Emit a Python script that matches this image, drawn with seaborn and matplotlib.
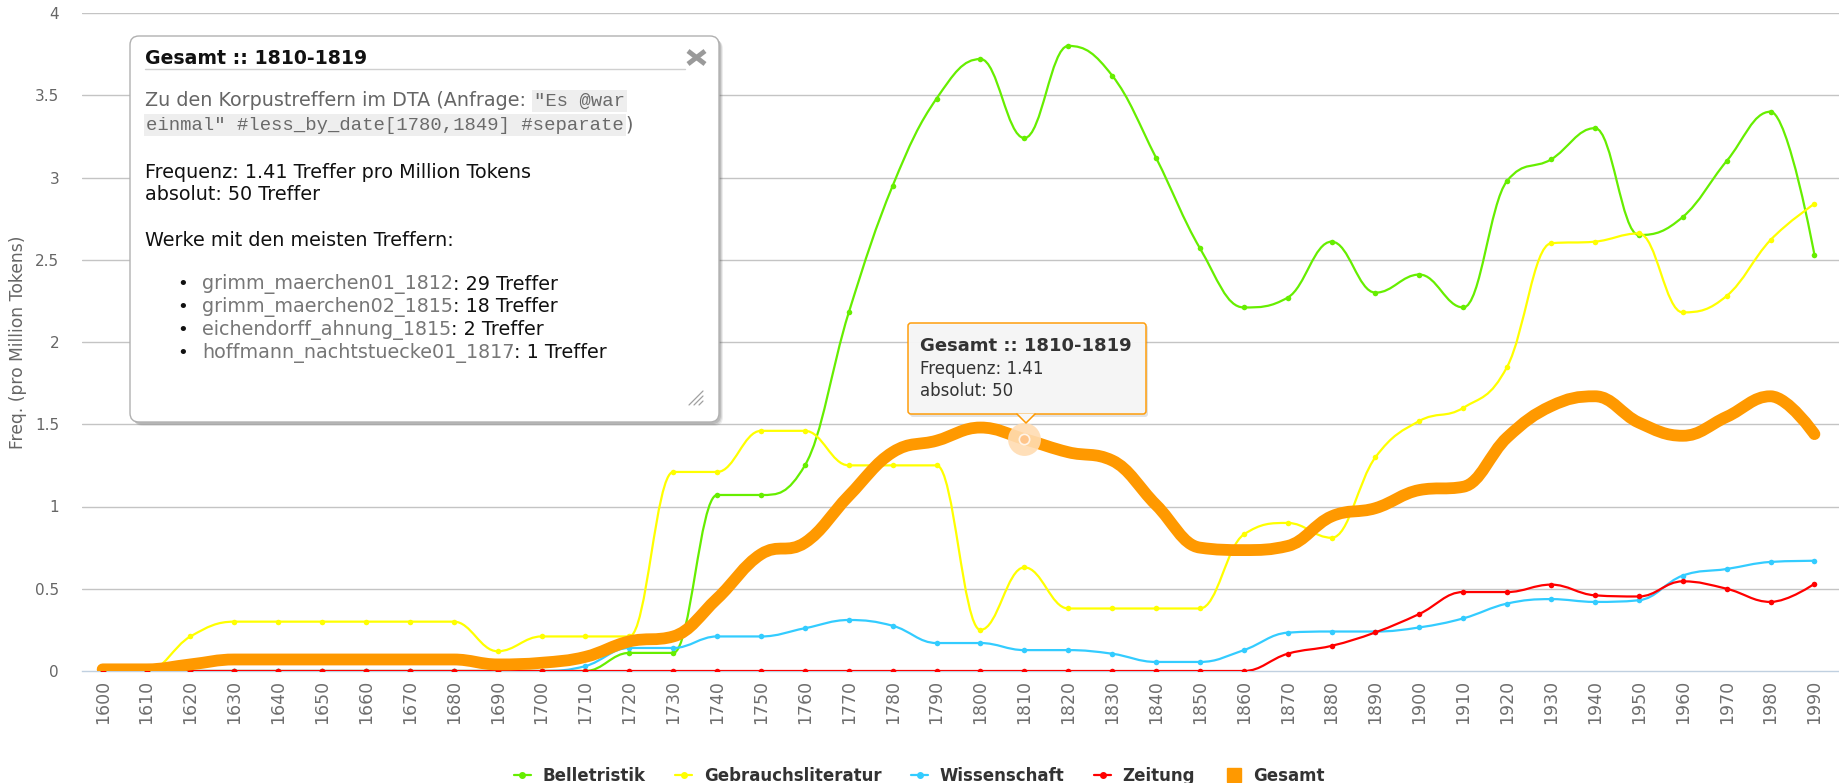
import matplotlib
matplotlib.use("Agg")
import matplotlib.pyplot as plt
import matplotlib.transforms as mtransforms
from matplotlib.path import Path
from matplotlib.patches import PathPatch, FancyBboxPatch, Polygon
from matplotlib.lines import Line2D
import seaborn as sns
import pandas as pd

# decades on the x axis
years = list(range(1600, 2000, 10))

# Freq. (pro Million Tokens), one value per decade
belletristik = [0, 0, 0, 0, 0, 0, 0, 0, 0, 0, 0, 0, 0.11, 0.11, 1.07, 1.07, 1.25, 2.18, 2.95, 3.48,
                3.72, 3.24, 3.80, 3.62, 3.12, 2.57, 2.21, 2.27, 2.61, 2.30, 2.41, 2.21, 2.98, 3.11,
                3.30, 2.65, 2.76, 3.10, 3.40, 2.53]
gebrauchsliteratur = [0, 0, 0.21, 0.30, 0.30, 0.30, 0.30, 0.30, 0.30, 0.12, 0.21, 0.21, 0.21, 1.21,
                      1.21, 1.46, 1.46, 1.25, 1.25, 1.25, 0.25, 0.63, 0.38, 0.38, 0.38, 0.38, 0.83,
                      0.90, 0.81, 1.30, 1.52, 1.60, 1.85, 2.60, 2.61, 2.66, 2.18, 2.28, 2.62, 2.84]
wissenschaft = [0, 0, 0, 0, 0, 0, 0, 0, 0, 0, 0, 0.03, 0.14, 0.14, 0.21, 0.21, 0.26, 0.31, 0.275,
                0.17, 0.17, 0.127, 0.127, 0.105, 0.055, 0.055, 0.127, 0.233, 0.24, 0.24, 0.265,
                0.32, 0.41, 0.437, 0.42, 0.43, 0.58, 0.62, 0.663, 0.67]
zeitung = [0, 0, 0, 0, 0, 0, 0, 0, 0, 0, 0, 0, 0, 0, 0, 0, 0, 0, 0, 0, 0, 0, 0, 0, 0, 0, 0,
           0.105, 0.153, 0.235, 0.347, 0.48, 0.48, 0.525, 0.46, 0.453, 0.545, 0.50, 0.42, 0.53]
gesamt = [0.01, 0.01, 0.04, 0.07, 0.07, 0.07, 0.07, 0.07, 0.07, 0.04, 0.05, 0.086, 0.18, 0.21,
          0.44, 0.71, 0.78, 1.065, 1.33, 1.40, 1.48, 1.41, 1.33, 1.28, 1.01, 0.75, 0.735, 0.76,
          0.94, 0.99, 1.10, 1.12, 1.42, 1.61, 1.67, 1.51, 1.43, 1.545, 1.67, 1.44]

series_names = ['Belletristik', 'Gebrauchsliteratur', 'Wissenschaft', 'Zeitung', 'Gesamt']
series_values = [belletristik, gebrauchsliteratur, wissenschaft, zeitung, gesamt]
colors = ['#66ee00', '#ffff00', '#33ccff', '#ff0000', '#ff9900']

ytick_values = [0, 0.5, 1, 1.5, 2, 2.5, 3, 3.5, 4]
ytick_labels = ['0', '0.5', '1', '1.5', '2', '2.5', '3', '3.5', '4']

hover_year, hover_value = 1810, 1.41

W, H = 1839, 783


def spline_path(xs, ys, smoothing=1.5):
    # highcharts style spline: cubic bezier with clamped control points
    n = len(xs)
    den = smoothing + 1
    left = [(x, y) for x, y in zip(xs, ys)]
    right = list(left)
    for i in range(1, n - 1):
        px, py = xs[i], ys[i]
        lx, ly = xs[i - 1], ys[i - 1]
        nx, ny = xs[i + 1], ys[i + 1]
        lcx = (smoothing * px + lx) / den
        lcy = (smoothing * py + ly) / den
        rcx = (smoothing * px + nx) / den
        rcy = (smoothing * py + ny) / den
        corr = ((rcy - lcy) * (rcx - px)) / (rcx - lcx) + py - rcy
        lcy += corr
        rcy += corr
        if lcy > ly and lcy > py:
            lcy = max(ly, py); rcy = 2 * py - lcy
        elif lcy < ly and lcy < py:
            lcy = min(ly, py); rcy = 2 * py - lcy
        if rcy > ny and rcy > py:
            rcy = max(ny, py); lcy = 2 * py - rcy
        elif rcy < ny and rcy < py:
            rcy = min(ny, py); lcy = 2 * py - rcy
        left[i] = (lcx, lcy)
        right[i] = (rcx, rcy)
    verts = [(xs[0], ys[0])]
    codes = [Path.MOVETO]
    for i in range(1, n):
        verts += [right[i - 1], left[i], (xs[i], ys[i])]
        codes += [Path.CURVE4] * 3
    return Path(verts, codes)


def draw_figure():
    sns.set_theme(style="white")
    plt.rcParams['font.family'] = ['DejaVu Sans']

    fig = plt.figure(figsize=(W / 100, H / 100), dpi=100)
    ax = fig.add_axes([82 / W, (H - 671) / H, (W - 82) / W, (671 - 13) / H])

    rows = []
    for name, vals in zip(series_names, series_values):
        for y, v in zip(years, vals):
            rows.append([name, y, v])
    df = pd.DataFrame(rows, columns=['series', 'year', 'freq'])

    for k, (name, color) in enumerate(zip(series_names, colors)):
        sub = df[df.series == name]
        lw = 8.5 if name == 'Gesamt' else 1.6
        patch = PathPatch(spline_path(list(sub.year), list(sub.freq)), fill=False,
                          edgecolor=color, lw=lw, capstyle='round', joinstyle='round',
                          zorder=3 + k)
        ax.add_patch(patch)

    thin = df[df.series != 'Gesamt']
    for k, name in enumerate(series_names[:4]):
        sns.scatterplot(data=thin[thin.series == name], x='year', y='freq', color=colors[k],
                        s=16, linewidth=0, legend=False, ax=ax, zorder=3 + k)

    # hover marker on Gesamt
    ax.scatter([hover_year], [hover_value], s=560, color='#ffdcb2', alpha=0.9, lw=0, zorder=9)
    ax.scatter([hover_year], [hover_value], s=55, facecolor='#ffc58a', edgecolor='#fff4e8',
               lw=1.2, zorder=10)

    ax.set_xlim(1595.3, 1995.6)
    ax.set_ylim(0, 4)
    ax.set_xticks(years)
    ax.set_xticklabels([str(y) for y in years])
    ax.set_yticks(ytick_values)
    ax.set_yticklabels(ytick_labels)
    ax.set_xlabel('')
    ax.set_ylabel('Freq. (pro Million Tokens)', color='#666666', fontsize=12.3)
    ax.yaxis.set_label_coords(-0.0315, 0.5)
    ax.tick_params(axis='x', length=0, pad=6.5, labelsize=12.5, labelcolor='#6e6e6e',
                   labelrotation=90)
    ax.tick_params(axis='y', length=0, pad=16.5, labelsize=11, labelcolor='#666666')
    ax.grid(False)
    for v in ytick_values[1:]:
        ax.axhline(v, color='#c4c4c4', lw=1.0, zorder=1)
    for s in ['top', 'right', 'left']:
        ax.spines[s].set_visible(False)
    ax.spines['bottom'].set_color('#c0d0e0')
    ax.spines['bottom'].set_linewidth(1.0)
    ax.set_facecolor('white')

    # legend
    handles = [Line2D([], [], color=c, lw=1.6, marker='o', ms=4) for c in colors[:4]]
    handles.append(Line2D([], [], color=colors[4], lw=0, marker='s', ms=10))
    fig.legend(handles, series_names, loc='center', bbox_to_anchor=(0.5, 0.009), ncol=5,
               frameon=False, prop=dict(weight='bold', size=12), handlelength=1.0,
               handletextpad=0.7, columnspacing=1.8, labelcolor='#333333')

    # overlays in reference pixel coordinates (origin top left)
    pix = mtransforms.Affine2D().scale(1 / 100, -1 / 100).translate(0, H / 100) + fig.dpi_scale_trans
    renderer = fig.canvas.get_renderer()

    # big popup box
    for off, a in [(4, 0.10), (3, 0.15), (2, 0.2)]:
        fig.add_artist(FancyBboxPatch((130 + off, 36 + off), 589, 386,
                                      boxstyle='round,pad=0,rounding_size=9', transform=pix,
                                      fc='#555555', ec='none', alpha=a, zorder=20))
    fig.add_artist(FancyBboxPatch((130, 36), 589, 386, boxstyle='round,pad=0,rounding_size=9',
                                  transform=pix, fc='white', ec='#b0b0b0', lw=1, zorder=21))
    fig.add_artist(Line2D([145, 685], [69, 69], transform=pix, color='#d0d0d0', lw=1, zorder=22))
    fig.add_artist(Line2D([688, 705], [51, 64], transform=pix, color='#9a9a9a', lw=3.5,
                          solid_capstyle='butt', zorder=22))
    fig.add_artist(Line2D([688, 705], [64, 51], transform=pix, color='#9a9a9a', lw=3.5,
                          solid_capstyle='butt', zorder=22))
    for x0, x1, y1 in [(689, 703, 391), (694, 703, 396), (699, 703, 401)]:
        fig.add_artist(Line2D([x0, x1], [405, y1], transform=pix, color='#a0a0a0', lw=0.9,
                              zorder=22))

    txt = dict(transform=pix, va='center', ha='left', zorder=23)
    fs = 13.8
    fig.text(145, 58, 'Gesamt :: 1810-1819', fontsize=13.6, weight='bold', color='#111111', **txt)
    t = fig.text(145, 101, 'Zu den Korpustreffern im DTA (Anfrage:', fontsize=fs,
                 color='#666666', **txt)
    code_x = t.get_window_extent(renderer).x1 / fig.dpi * 100 + 8
    code_box = dict(facecolor='#eeeeee', edgecolor='none', pad=1.5)
    fig.text(code_x, 101, '"Es @war', fontsize=13.6, family='Liberation Mono', color='#6a6a6a',
             bbox=code_box, **txt)
    t = fig.text(146, 125, 'einmal" #less_by_date[1780,1849] #separate', fontsize=13.6,
                 family='Liberation Mono', color='#6a6a6a', bbox=code_box, **txt)
    x1 = t.get_window_extent(renderer).x1 / fig.dpi * 100 + 2
    fig.text(x1, 125, ')', fontsize=fs, color='#666666', **txt)
    fig.text(145, 172, 'Frequenz: 1.41 Treffer pro Million Tokens', fontsize=fs,
             color='#111111', **txt)
    fig.text(145, 195, 'absolut: 50 Treffer', fontsize=fs, color='#111111', **txt)
    fig.text(145, 241, 'Werke mit den meisten Treffern:', fontsize=fs, color='#111111', **txt)

    works = ['grimm_maerchen01_1812', 'grimm_maerchen02_1815', 'eichendorff_ahnung_1815',
             'hoffmann_nachtstuecke01_1817']
    hits = ['29 Treffer', '18 Treffer', '2 Treffer', '1 Treffer']
    for i, (w, h) in enumerate(zip(works, hits)):
        yy = 284 + i * 22.9
        fig.text(183, yy, '\u2022', fontsize=13, color='#111111', ha='center', va='center',
                 transform=pix, zorder=23)
        t = fig.text(202, yy, w, fontsize=fs, color='#777777', **txt)
        x1 = t.get_window_extent(renderer).x1 / fig.dpi * 100
        fig.text(x1, yy, ': ' + h, fontsize=fs, color='#111111', **txt)

    # small hover tooltip
    fig.add_artist(FancyBboxPatch((910, 325), 238, 92, boxstyle='round,pad=0,rounding_size=3',
                                  transform=pix, fc='#666666', ec='none', alpha=0.18, zorder=20))
    fig.add_artist(FancyBboxPatch((908, 323), 238, 91, boxstyle='round,pad=0,rounding_size=3',
                                  transform=pix, fc='#f7f7f7', ec='#ff9900', lw=1.1, alpha=0.95,
                                  zorder=21))
    fig.add_artist(Polygon([(1017, 413.5), (1026, 423), (1035, 413.5)], closed=True,
                           transform=pix, fc='#f7f7f7', ec='none', zorder=22))
    fig.add_artist(Line2D([1017, 1026, 1035], [414, 423, 414], transform=pix, color='#ff9900',
                          lw=1.1, zorder=22))
    fig.text(920, 346, 'Gesamt :: 1810-1819', fontsize=13, weight='bold', color='#333333', **txt)
    fig.text(920, 369, 'Frequenz: 1.41', fontsize=12, color='#333333', **txt)
    fig.text(920, 391, 'absolut: 50', fontsize=12, color='#333333', **txt)

    return fig


fig = draw_figure()
fig.savefig('out.png', dpi=100, facecolor='white')
plt.close(fig)
